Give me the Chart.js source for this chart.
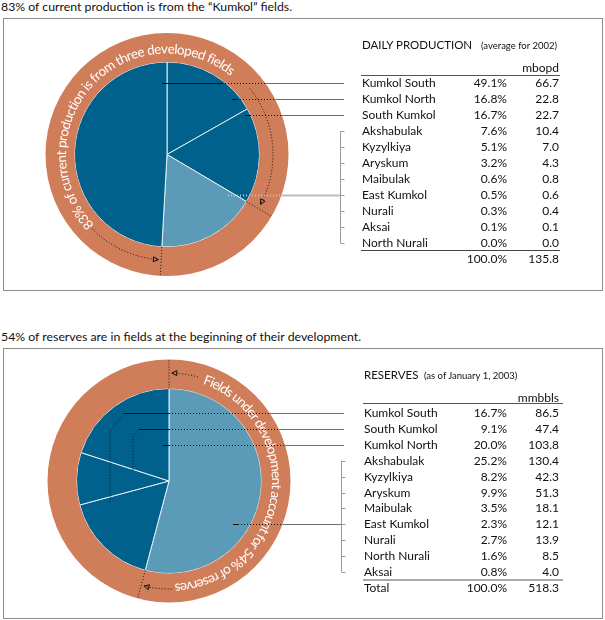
<!DOCTYPE html>
<html>
<head>
<meta charset="utf-8">
<title>Kumkol production and reserves</title>
<script src="https://cdn.jsdelivr.net/npm/chart.js@4.4.1/dist/chart.umd.min.js"></script>
<style>
  body { margin: 0; width: 605px; height: 620px; position: relative; background: #fff;
         font-family: Lato, 'Noto Sans', sans-serif; color: #111; overflow: hidden; }
  .txt { position: absolute; white-space: nowrap; line-height: 14px; font-size: 12px; }
  .title { font-size: 12.3px; }
  .box { position: absolute; left: 3px; width: 600px; border: 1px solid #8c8c8c; box-sizing: border-box; }
  canvas { position: absolute; left: 0; }
  .rule { position: absolute; height: 0; }
  .sub { font-size: 9.5px; }
</style>
</head>
<body>
<div class="txt title" style="left:1px;top:0px">83% of current production is from the “Kumkol” fields.</div>
<div class="box" style="top:18px;height:273px"></div>
<canvas id="prod" width="605" height="272" style="top:19px"></canvas>

<div class="txt title" style="left:1px;top:330px">54% of reserves are in fields at the beginning of their development.</div>
<div class="box" style="top:348px;height:271px"></div>
<canvas id="res" width="605" height="268" style="top:348px"></canvas>

<script>
// ---- data: daily production, average for 2002 (mbopd) ----
const prodFields = ['Kumkol South', 'Kumkol North', 'South Kumkol', 'Akshabulak', 'Kyzylkiya',
  'Aryskum', 'Maibulak', 'East Kumkol', 'Nurali', 'Aksai', 'North Nurali'];
const prodShare = [49.1, 16.8, 16.7, 7.6, 5.1, 3.2, 0.6, 0.5, 0.3, 0.1, 0.0];
const prodMbopd = [66.7, 22.8, 22.7, 10.4, 7.0, 4.3, 0.8, 0.6, 0.4, 0.1, 0.0];
const prodTotal = 135.8;

// ---- data: reserves as of January 1, 2003 (mmbbls) ----
const resFields = ['Kumkol South', 'South Kumkol', 'Kumkol North', 'Akshabulak', 'Kyzylkiya',
  'Aryskum', 'Maibulak', 'East Kumkol', 'Nurali', 'North Nurali', 'Aksai'];
const resShare = [16.7, 9.1, 20.0, 25.2, 8.2, 9.9, 3.5, 2.3, 2.7, 1.6, 0.8];
const resMmbbls = [86.5, 47.4, 103.8, 130.4, 42.3, 51.3, 18.1, 12.1, 13.9, 8.5, 4.0];
const resTotal = 518.3;
const totalShare = 100.0;

const DARK = '#00618c', LIGHT = '#5b9bb8', ORANGE = '#d07d59';

const sumFrom = (arr, i0) => arr.slice(i0).reduce((a, b) => a + b, 0);

// pie slices, clockwise from 12 o'clock (first three fields are the "Kumkol" ones)
const prodSlices = [prodMbopd[1], prodMbopd[2], sumFrom(prodMbopd, 3), prodMbopd[0]];
const prodColors = [DARK, DARK, LIGHT, DARK];
const resSlices = [sumFrom(resMmbbls, 3), resMmbbls[0], resMmbbls[1], resMmbbls[2]];
const resColors = [LIGHT, DARK, DARK, DARK];

// ---- tables (html text) ----
function addText(txt, css, cls) {
  const d = document.createElement('div');
  d.className = 'txt' + (cls ? ' ' + cls : '');
  d.textContent = txt;
  Object.assign(d.style, css);
  document.body.appendChild(d);
  return d;
}
function addRule(x0, x1, y, w, color) {
  const d = document.createElement('div');
  d.className = 'rule';
  Object.assign(d.style, { left: x0 + 'px', width: (x1 - x0) + 'px', top: (y - w / 2) + 'px',
    borderTop: w + 'px solid ' + color });
  document.body.appendChild(d);
}
function buildTable(t) {
  addText(t.head, { left: t.nameX + 'px', top: (t.headY - 7) + 'px', fontSize: t.headSize });
  addText(t.note, { left: t.noteX + 'px', top: (t.headY - 6) + 'px' }, 'sub');
  addText(t.unit, { right: (605 - t.valX) + 'px', top: (t.unitY - 7) + 'px' });
  addRule(t.ruleX0, t.ruleX1, t.rule1Y, 1, '#555');
  t.names.forEach((n, i) => {
    const top = (t.rowY(i) - 7) + 'px';
    addText(n, { left: t.nameX + 'px', top });
    addText(t.share[i].toFixed(1) + '%', { right: (605 - t.pctX) + 'px', top });
    addText(t.vals[i].toFixed(1), { right: (605 - t.valX) + 'px', top });
  });
  addRule(t.ruleX0, t.ruleX1, t.rule2Y, t.rule2W, t.rule2C);
  const top = (t.totalY - 7) + 'px';
  if (t.totalLabel) addText(t.totalLabel, { left: t.nameX + 'px', top });
  addText(totalShare.toFixed(1) + '%', { right: (605 - t.pctX) + 'px', top });
  addText(t.total.toFixed(1), { right: (605 - t.valX) + 'px', top });
}

const prodRowY = i => 83.3 + 16 * i;
const resRowY = i => 413.3 + 15.85 * i;

buildTable({ head: 'DAILY PRODUCTION', note: '(average for 2002)', unit: 'mbopd',
  names: prodFields, share: prodShare, vals: prodMbopd, total: prodTotal, headSize: '11.5px',
  nameX: 362, noteX: 481, pctX: 507, valX: 559, headY: 45, unitY: 68,
  ruleX0: 361, ruleX1: 560, rule1Y: 75, rule2Y: 250, rule2W: 1, rule2C: '#444',
  rowY: prodRowY, totalY: 259.3 });
buildTable({ head: 'RESERVES', note: '(as of January 1, 2003)', unit: 'mmbbls',
  names: resFields, share: resShare, vals: resMmbbls, total: resTotal, totalLabel: 'Total',
  headSize: '11.5px',
  nameX: 364, noteX: 424, pctX: 507, valX: 559, headY: 375, unitY: 398,
  ruleX0: 363, ruleX1: 563, rule1Y: 403, rule2Y: 580, rule2W: 2, rule2C: '#aaa',
  rowY: resRowY, totalY: 588.3 });

// ---- ring text, leaders and arrows ----
const rad = d => (d - 90) * Math.PI / 180;

function arcText(ctx, text, cx, cy, r, d0, d1) {
  ctx.font = '13.5px Lato, sans-serif';
  ctx.fillStyle = '#fff';
  ctx.textAlign = 'center';
  ctx.textBaseline = 'alphabetic';
  const chars = [...text];
  const widths = chars.map(c => ctx.measureText(c).width);
  const total = widths.reduce((a, b) => a + b, 0);
  const gap = ((d1 - d0) * Math.PI / 180 * r - total) / (chars.length - 1);
  let s = 0;
  chars.forEach((c, i) => {
    const a = d0 * Math.PI / 180 + (s + widths[i] / 2) / r;
    ctx.save();
    ctx.translate(cx + r * Math.sin(a), cy - r * Math.cos(a));
    ctx.rotate(a);
    ctx.fillText(c, 0, 0);
    ctx.restore();
    s += widths[i] + gap;
  });
}

function arrowArc(ctx, cx, cy, r, d0, d1) {
  ctx.setLineDash([1, 2]);
  ctx.beginPath();
  ctx.arc(cx, cy, r, rad(d0), rad(d1), d1 < d0);
  ctx.stroke();
  ctx.setLineDash([]);
  const t = rad(d1), dir = d1 > d0 ? 1 : -1;
  const tip = [cx + r * Math.cos(t), cy + r * Math.sin(t)];
  const tg = [-Math.sin(t) * dir, Math.cos(t) * dir], nr = [Math.cos(t), Math.sin(t)];
  const b = [tip[0] - tg[0] * 5, tip[1] - tg[1] * 5];
  ctx.beginPath();
  ctx.moveTo(tip[0], tip[1]);
  ctx.lineTo(b[0] + nr[0] * 2.5, b[1] + nr[1] * 2.5);
  ctx.lineTo(b[0] - nr[0] * 2.5, b[1] - nr[1] * 2.5);
  ctx.closePath();
  ctx.stroke();
}

function tick(ctx, cx, cy, r0, r1, d) {
  const a = d * Math.PI / 180;
  ctx.setLineDash([1, 2]);
  ctx.beginPath();
  ctx.moveTo(cx + r0 * Math.sin(a), cy - r0 * Math.cos(a));
  ctx.lineTo(cx + r1 * Math.sin(a), cy - r1 * Math.cos(a));
  ctx.stroke();
  ctx.setLineDash([]);
}

function makeNotes(cfg) {
  return {
    id: 'notes',
    afterDatasetsDraw(chart) {
      const ctx = chart.ctx;
      const pie = chart.getDatasetMeta(1).data;
      const ring = chart.getDatasetMeta(0).data[0];
      const cx = pie[0].x, cy = pie[0].y;
      const rIn = pie[0].outerRadius, rOut = ring.outerRadius;
      const deg = a => a * 180 / Math.PI + 90;
      const bounds = pie.map(p => deg(p.startAngle)).concat([deg(pie[pie.length - 1].endAngle)]);
      ctx.save();
      ctx.lineWidth = 1;
      ctx.strokeStyle = '#111';

      // curved note on the ring
      arcText(ctx, cfg.text, cx, cy, cfg.textR, cfg.textFrom, cfg.textTo);

      // boundary ticks and arrows
      ctx.strokeStyle = '#111';
      cfg.ticks.forEach(k => tick(ctx, cx, cy, rIn, rOut + 1, bounds[k]));
      cfg.arrows.forEach(a => arrowArc(ctx, cx, cy, a.r, a.from, bounds[a.to] + a.gap));

      // bracket next to the small fields
      const top = cfg.rowY(3) - cfg.top, bot = cfg.rowY(10) - cfg.top;
      ctx.strokeStyle = '#9a9a9a';
      ctx.beginPath();
      ctx.moveTo(cfg.bracketX, top);
      ctx.lineTo(cfg.bracketX, bot);
      for (let i = 3; i <= 10; i++) {
        const y = Math.round(cfg.rowY(i) - cfg.top) + 0.5;
        ctx.moveTo(cfg.bracketX, y);
        ctx.lineTo(cfg.bracketX + 4, y);
      }
      ctx.stroke();

      // leader lines from the table rows into the slices
      cfg.leaders.forEach(l => {
        const y = Math.round(cfg.rowY(l.row) - cfg.top) + 0.5;
        const x0 = cx + l.dx, xs = x0 + l.solid;
        const dy = y - cy;
        const xr = cx + Math.sqrt(Math.max(rOut * rOut - dy * dy, 0));
        ctx.lineWidth = l.w || 1;
        ctx.strokeStyle = l.dark || '#111';
        if (l.solid > 0) {
          ctx.beginPath(); ctx.moveTo(x0, y); ctx.lineTo(xs, y); ctx.stroke();
        }
        ctx.setLineDash([1, 2]);
        ctx.beginPath(); ctx.moveTo(xs, y); ctx.lineTo(xr, y); ctx.stroke();
        if (l.bend) {
          ctx.lineWidth = 1;
          ctx.beginPath(); ctx.moveTo(x0, y);
          l.bend.forEach(p => ctx.lineTo(cx + p[0], cy + p[1]));
          ctx.stroke();
        }
        ctx.setLineDash([]);
        ctx.lineWidth = l.w || 1;
        ctx.strokeStyle = l.gray || '#6e6e6e';
        ctx.beginPath(); ctx.moveTo(xr, y); ctx.lineTo(l.endX, y); ctx.stroke();
      });
      ctx.restore();
    }
  };
}

function pieChart(id, slices, colors, padding, notes) {
  return new Chart(document.getElementById(id), {
    type: 'pie',
    data: {
      labels: slices.map((_, i) => 'slice ' + i),
      datasets: [
        { data: [1], backgroundColor: [ORANGE], borderWidth: 0, weight: 29 },
        { data: slices, backgroundColor: colors, borderColor: '#e4eef3', borderWidth: 1, weight: 92.5 }
      ]
    },
    options: {
      responsive: false,
      animation: false,
      radius: 121.5,
      layout: { padding },
      plugins: { legend: { display: false }, tooltip: { enabled: false } }
    },
    plugins: [makeNotes(notes)]
  });
}

pieChart('prod', prodSlices, prodColors, { left: 0, right: 271, top: 0, bottom: 1 }, {
  text: '83% of current production is from three developed fields',
  textR: 101, textFrom: 226, textTo: 399,
  ticks: [2, 3],
  arrows: [{ r: 106, from: 51.5, to: 2, gap: -2.5 }, { r: 105.5, from: 225, to: 3, gap: 1.5 }],
  rowY: prodRowY, top: 19, bracketX: 340.5,
  leaders: [
    { row: 0, dx: -5, solid: 60, endX: 344 },
    { row: 1, dx: 65, solid: 5, endX: 344 },
    { row: 2, dx: 78, solid: 5, endX: 344 },
    { row: 7, dx: 61, solid: 0, endX: 340, w: 2, dark: '#b9c4c9', gray: '#bdbdbd' }
  ]
});

pieChart('res', resSlices, resColors, { left: 0, right: 267, top: 0, bottom: 2 }, {
  text: 'Fields under development account for 54% of reserves',
  textR: 103, textFrom: 19, textTo: 177,
  ticks: [0, 1],
  arrows: [{ r: 108, from: 15.5, to: 0, gap: 1.5 }, { r: 108, from: 178.6, to: 1, gap: -1.5 }],
  rowY: resRowY, top: 348, bracketX: 341.5,
  leaders: [
    { row: 0, dx: -45, solid: 45, endX: 344, bend: [[-59, -50], [-59, 23]] },
    { row: 1, dx: -30, solid: 30, endX: 344, bend: [[-36, -45], [-36, -10]] },
    { row: 2, dx: -6, solid: 6, endX: 344 },
    { row: 7, dx: 64, solid: 5, endX: 341 }
  ]
});
</script>
</body>
</html>
